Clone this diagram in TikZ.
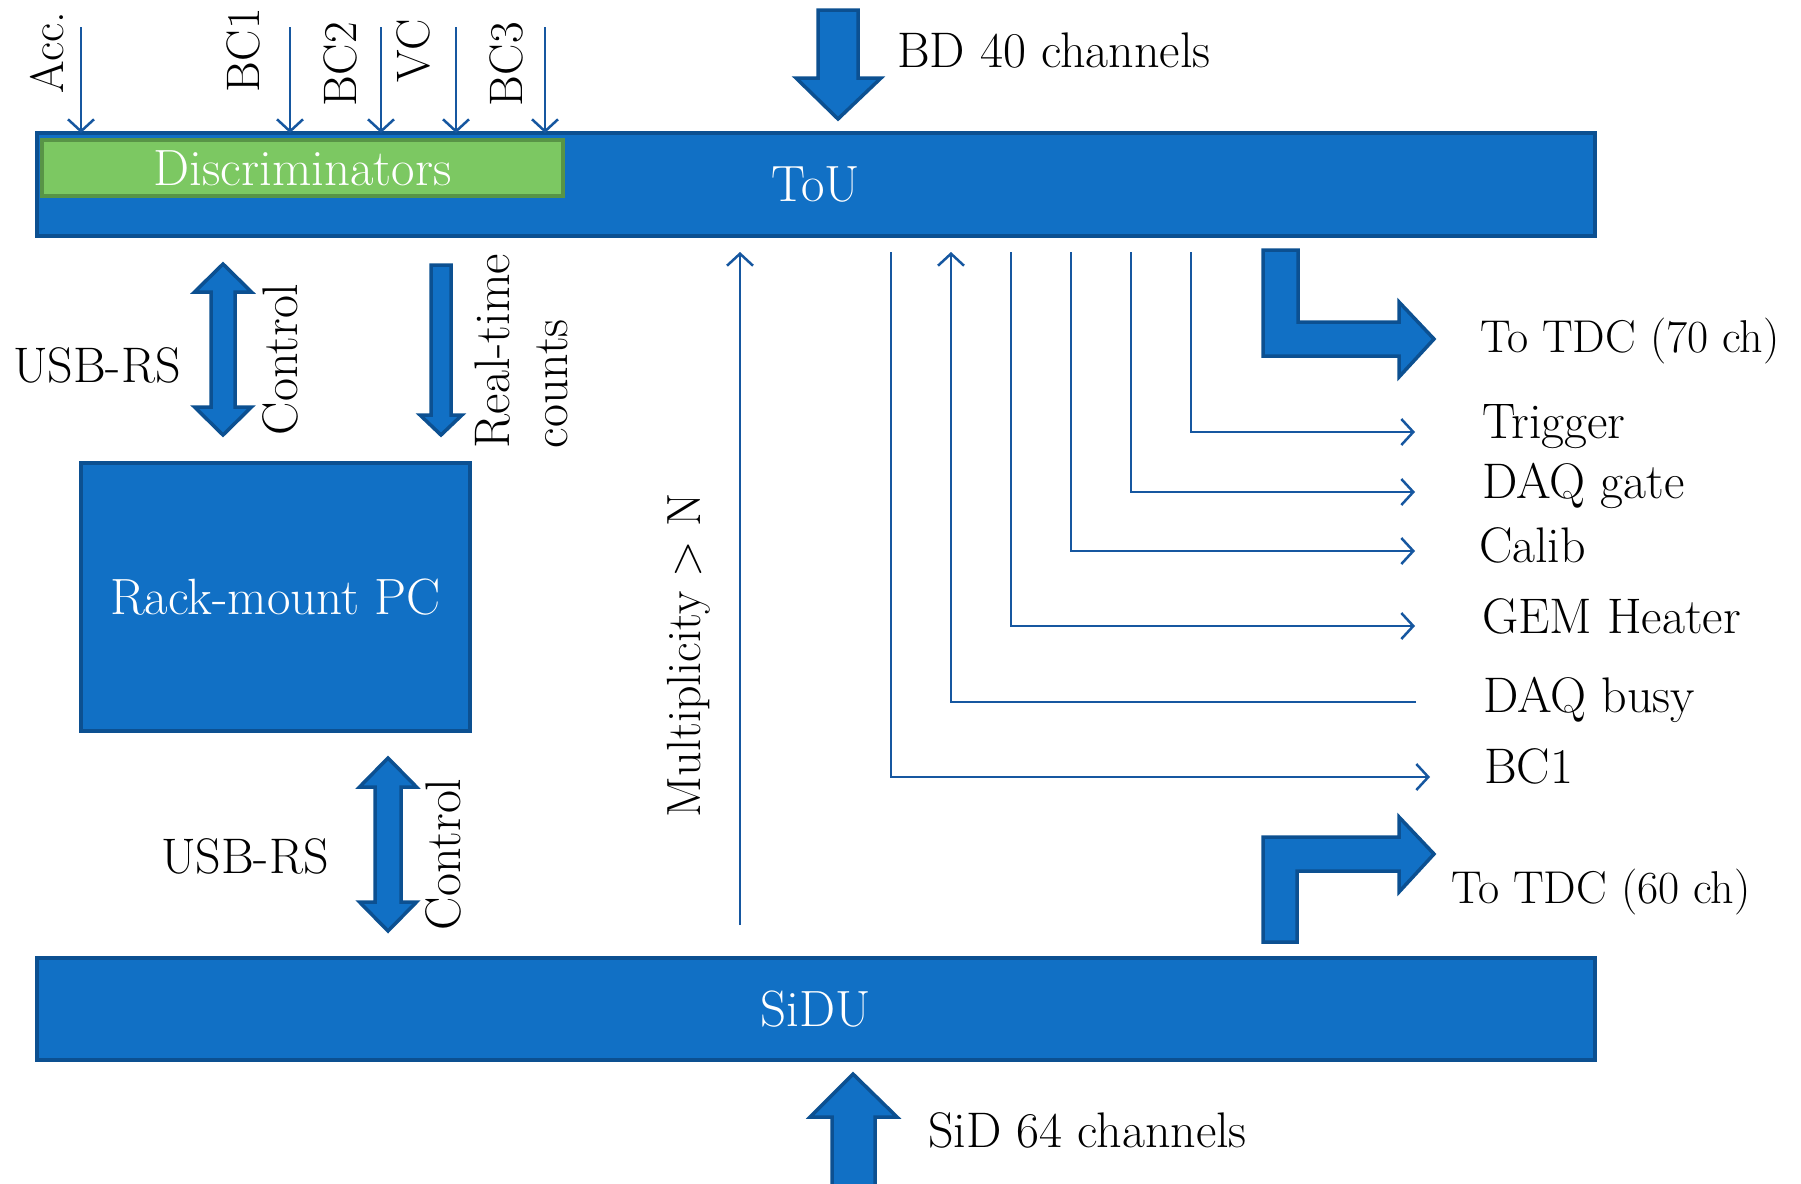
\documentclass[tikz,border=0pt]{standalone}
\usetikzlibrary{arrows.meta}
\definecolor{boxblue}{RGB}{17,112,197}
\definecolor{edgeblue}{RGB}{12,80,145}
\definecolor{lineblue}{RGB}{22,87,160}
\definecolor{discgreen}{RGB}{124,200,98}
\definecolor{discedge}{RGB}{88,148,70}
\begin{document}
\begin{tikzpicture}[x=1pt,y=-1pt,
  every node/.style={inner sep=0pt, outer sep=0pt},
  txt/.style={font=\fontsize{50}{60}\selectfont, text=black},
  boxtxt/.style={font=\fontsize{51}{61}\selectfont, text=white},
  block/.style={draw=edgeblue, fill=boxblue, line width=4pt, anchor=north west, boxtxt},
  disc/.style={draw=discedge, fill=discgreen, line width=4pt, anchor=north west, boxtxt},
  fat/.style={draw=edgeblue, fill=boxblue, line width=3.5pt, line join=miter},
  sig/.style={draw=lineblue, line width=2.5pt},
  sigarrow/.style={sig, -{Straight Barb[length=12pt, width=26pt]}},
  vlabel/.style={txt, rotate=90, anchor=base west},
  toplabel/.style={vlabel, font=\fontsize{47}{56}\selectfont},
  hlabel/.style={txt, anchor=base west},
  tdclabel/.style={hlabel, font=\fontsize{46}{55}\selectfont},
]
\useasboundingbox[fill=white] (0,0) rectangle (1801,1183);

% ---------- main blocks ----------
\node[block, minimum width=1558.5pt, minimum height=103pt] (tou) at (36.5,133) {};
\node[boxtxt] (toulbl) at (tou.center) {ToU};
\node[disc, minimum width=521pt, minimum height=56pt] (disc) at (42,140) {Discriminators};
\node[block, minimum width=389pt, minimum height=268pt] (pc) at (81,463) {Rack-mount PC};
\node[block, minimum width=1558.5pt, minimum height=102pt] (sidu) at (36.5,958) {SiDU};

% ---------- top inputs ----------
\coordinate (iacc) at (81,27);
\coordinate (ibc1) at (290,27);
\coordinate (ibc2) at (381,27);
\coordinate (ivc)  at (456,27);
\coordinate (ibc3) at (545,27);
\foreach \c in {iacc,ibc1,ibc2,ivc,ibc3}
  \draw[sigarrow] (\c) -- (\c |- tou.north);
\node[toplabel] (lacc) at (63,93) {Acc.};
\node[toplabel] (lbc1) at (259,92) {BC1};
\node[toplabel] (lbc2) at (356,106) {BC2};
\node[toplabel] (lvc)  at (429,82) {VC};
\node[toplabel] (lbc3) at (522,106) {BC3};

% ---------- BD arrow ----------
\draw[fat] (818,10) -- (858,10) -- (858,78) -- (881,78) -- (838,119) -- (796,78) -- (818,78) -- cycle;
\node[hlabel] (lbd) at (897,67) {BD 40 channels};

% ---------- SiD arrow ----------
\draw[fat] (832,1190) -- (832,1117) -- (810,1117) -- (853,1074) -- (897,1117) -- (875,1117) -- (875,1190) -- cycle;
\node[hlabel] (lsid) at (928,1147) {SiD 64 channels};

% ---------- PC <-> ToU ----------
\draw[fat] (223,264) -- (251.5,292) -- (235,292) -- (235,407) -- (251.5,407) -- (223,435)
  -- (194.5,407) -- (211,407) -- (211,292) -- (194.5,292) -- cycle;
\node[hlabel] (lusb1) at (13,382) {USB-RS};
\node[vlabel] (lctl1) at (297,435) {Control};

\draw[fat] (431,265) -- (451,265) -- (451,415) -- (462,415) -- (441,435) -- (420,415) -- (431,415) -- cycle;
\node[vlabel] (lrt) at (509,448) {Real-time};
\node[vlabel] (lcnt) at (567,448) {counts};

% ---------- PC <-> SiDU ----------
\draw[fat] (388,758) -- (416.5,787) -- (401,787) -- (401,902) -- (416.5,902) -- (388,931)
  -- (359.5,902) -- (375,902) -- (375,787) -- (359.5,787) -- cycle;
\node[hlabel] (lusb2) at (161,873) {USB-RS};
\node[vlabel] (lctl2) at (460,930) {Control};

% ---------- multiplicity ----------
\coordinate (mS) at (740,925);
\coordinate (mT) at (740,252);
\draw[sigarrow] (mS) -- (mT);
\node[vlabel, font=\fontsize{48}{58}\selectfont] (lmult) at (700,817) {Multiplicity > N};

% ---------- output signals ----------
\coordinate (sTrig) at (1191,252); \coordinate (eTrig) at (1415,432);
\coordinate (sGate) at (1131,252); \coordinate (eGate) at (1415,492);
\coordinate (sCal)  at (1071,252); \coordinate (eCal)  at (1415,551);
\coordinate (sGem)  at (1011,252); \coordinate (eGem)  at (1415,626);
\coordinate (sBusy) at (1416,702); \coordinate (eBusy) at (951,252);
\coordinate (sBc)   at (891,252);  \coordinate (eBc)   at (1430,777);
\draw[sigarrow] (sTrig) |- (eTrig);
\draw[sigarrow] (sGate) |- (eGate);
\draw[sigarrow] (sCal)  |- (eCal);
\draw[sigarrow] (sGem)  |- (eGem);
\draw[sigarrow] (sBusy) -| (eBusy);
\draw[sigarrow] (sBc)   |- (eBc);

\node[hlabel] (ltrig) at (1482,438) {Trigger};
\node[hlabel] (lgate) at (1482,498) {DAQ gate};
\node[hlabel] (lcal)  at (1479,562) {Calib};
\node[hlabel] (lgem)  at (1482,633) {GEM Heater};
\node[hlabel] (lbusy) at (1483,712) {DAQ busy};
\node[hlabel] (lbc)   at (1484,783) {BC1};

% ---------- TDC bent arrows ----------
\draw[fat] (1263,250) -- (1298,250) -- (1298,322) -- (1399,322) -- (1399,302) -- (1434,339)
  -- (1399,377) -- (1399,356) -- (1263,356) -- cycle;
\node[tdclabel] (ltdc1) at (1480,352) {To TDC (70 ch)};

\draw[fat] (1263,942) -- (1263,837) -- (1399,837) -- (1399,817) -- (1434,854)
  -- (1399,892) -- (1399,871) -- (1297,871) -- (1297,942) -- cycle;
\node[tdclabel] (ltdc2) at (1451,903) {To TDC (60 ch)};
\end{tikzpicture}
\end{document}
